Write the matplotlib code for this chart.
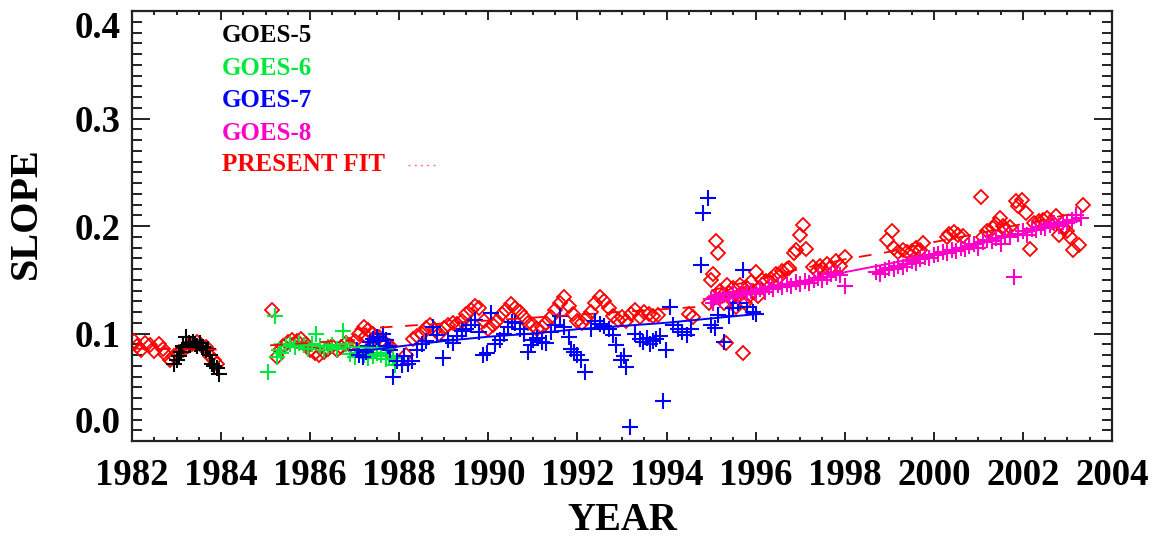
import matplotlib
matplotlib.use("Agg")
import matplotlib.pyplot as plt
from matplotlib.ticker import MultipleLocator, FixedLocator

plt.rcParams['font.family'] = ['Liberation Serif', 'DejaVu Serif']
plt.rcParams['font.weight'] = 'bold'

# ---------------- data ----------------
# GOES-5 (black +)
g5_years = [1982.95, 1983.0, 1983.05, 1983.1, 1983.15, 1983.21, 1983.27, 1983.3, 1983.37,
            1983.42, 1983.47, 1983.53, 1983.57, 1983.6, 1983.65, 1983.7, 1983.75, 1983.79,
            1983.85, 1983.9, 1983.95]
g5_vals = [0.072, 0.075, 0.079, 0.083, 0.088, 0.097, 0.091, 0.089, 0.092,
           0.090, 0.088, 0.091, 0.087, 0.087, 0.085, 0.086, 0.080, 0.072,
           0.070, 0.068, 0.062]
g5_fit_years = [1983.0, 1983.8]
g5_fit_vals = [0.087, 0.086]

# GOES-6 (green +)
g6_years = [1985.05, 1985.2, 1985.25, 1985.3, 1985.35, 1985.45, 1985.55, 1985.65, 1985.75,
            1985.85, 1985.95, 1986.05, 1986.14, 1986.22, 1986.3, 1986.4, 1986.5, 1986.6,
            1986.73, 1986.8, 1986.9, 1987.0, 1987.1, 1987.2, 1987.3, 1987.4, 1987.5,
            1987.6, 1987.7, 1987.78, 1987.85, 1987.9]
g6_vals = [0.064, 0.116, 0.078, 0.085, 0.082, 0.088, 0.090, 0.087, 0.091,
           0.089, 0.086, 0.090, 0.100, 0.088, 0.085, 0.087, 0.089, 0.086,
           0.102, 0.090, 0.081, 0.078, 0.082, 0.080, 0.077, 0.079, 0.082,
           0.080, 0.076, 0.079, 0.077, 0.071]
g6_fit_years = [1985.2, 1987.85]
g6_fit_vals = [0.090, 0.086]

# GOES-7 (blue +)
g7_years = [1987.05, 1987.1, 1987.19, 1987.25, 1987.3, 1987.35, 1987.4, 1987.49, 1987.55,
            1987.64, 1987.7, 1987.75, 1987.8, 1987.86, 1987.96, 1988.05, 1988.1, 1988.2,
            1988.28, 1988.4, 1988.5, 1988.6, 1988.76, 1988.85, 1988.98, 1989.1, 1989.2,
            1989.3, 1989.4, 1989.5, 1989.6, 1989.7, 1989.8, 1989.88, 1989.96, 1990.07,
            1990.15, 1990.25, 1990.35, 1990.45, 1990.52, 1990.6, 1990.7, 1990.8, 1990.88,
            1990.95, 1991.0, 1991.1, 1991.2, 1991.3, 1991.4, 1991.5, 1991.6, 1991.7,
            1991.8, 1991.86, 1991.92, 1992.0, 1992.09, 1992.16, 1992.3, 1992.4, 1992.5,
            1992.6, 1992.7, 1992.8, 1992.87, 1992.98, 1993.05, 1993.1, 1993.17, 1993.3,
            1993.4, 1993.47, 1993.55, 1993.62, 1993.7, 1993.77, 1993.85, 1993.92, 1993.99,
            1994.07, 1994.15, 1994.25, 1994.35, 1994.45, 1994.55, 1994.78, 1994.82, 1994.93,
            1995.0, 1995.08, 1995.15, 1995.3, 1995.4, 1995.5, 1995.6, 1995.72, 1995.8,
            1995.93, 1996.0]
g7_vals = [0.085, 0.080, 0.078, 0.083, 0.088, 0.092, 0.095, 0.097, 0.093,
           0.100, 0.094, 0.088, 0.085, 0.060, 0.074, 0.071, 0.079, 0.072,
           0.074, 0.085, 0.090, 0.093, 0.106, 0.099, 0.077, 0.094, 0.091,
           0.098, 0.102, 0.104, 0.108, 0.113, 0.101, 0.080, 0.082, 0.119,
           0.090, 0.094, 0.100, 0.106, 0.111, 0.110, 0.104, 0.100, 0.083,
           0.089, 0.094, 0.096, 0.092, 0.091, 0.101, 0.108, 0.116, 0.106,
           0.097, 0.086, 0.083, 0.080, 0.075, 0.064, 0.104, 0.112, 0.109,
           0.107, 0.104, 0.099, 0.089, 0.075, 0.079, 0.069, 0.013, 0.100,
           0.095, 0.092, 0.096, 0.090, 0.093, 0.095, 0.098, 0.037, 0.085,
           0.125, 0.108, 0.104, 0.101, 0.099, 0.104, 0.164, 0.212, 0.226,
           0.108, 0.105, 0.117, 0.092, 0.116, 0.124, 0.128, 0.159, 0.125,
           0.120, 0.118]
g7_fit_years = [1987.05, 1988.0, 1989.0, 1990.0, 1991.0, 1992.0, 1993.0, 1994.0, 1995.0, 1996.0]
g7_fit_vals = [0.083, 0.088, 0.093, 0.097, 0.100, 0.104, 0.107, 0.110, 0.114, 0.118]

# GOES-8 (magenta +)
g8_years = [1995.0, 1995.05, 1995.1, 1995.2, 1995.3, 1995.4, 1995.5, 1995.6, 1995.7, 1995.8,
            1995.9, 1996.0, 1996.1, 1996.2, 1996.3, 1996.4, 1996.5, 1996.6, 1996.7, 1996.8,
            1996.9, 1997.0, 1997.1, 1997.2, 1997.3, 1997.4, 1997.5, 1997.6, 1997.7, 1997.8,
            1997.9, 1998.0, 1998.7, 1998.8, 1998.9, 1999.0, 1999.1, 1999.2, 1999.3, 1999.4,
            1999.5, 1999.6, 1999.7, 1999.8, 1999.9, 2000.0, 2000.1, 2000.2, 2000.3, 2000.4,
            2000.5, 2000.6, 2000.7, 2000.8, 2000.9, 2001.0, 2001.1, 2001.2, 2001.3, 2001.4,
            2001.5, 2001.6, 2001.7, 2001.8, 2001.9, 2002.0, 2002.1, 2002.2, 2002.3, 2002.4,
            2002.5, 2002.6, 2002.7, 2002.8, 2002.9, 2003.0, 2003.1, 2003.2, 2003.3]
g8_vals = [0.132, 0.128, 0.134, 0.131, 0.136, 0.133, 0.138, 0.135, 0.139, 0.137,
           0.140, 0.138, 0.141, 0.139, 0.143, 0.141, 0.145, 0.143, 0.146, 0.144,
           0.148, 0.146, 0.149, 0.147, 0.150, 0.152, 0.150, 0.153, 0.155, 0.156,
           0.154, 0.144, 0.157, 0.155, 0.159, 0.161, 0.160, 0.163, 0.162, 0.165,
           0.167, 0.166, 0.169, 0.171, 0.170, 0.173, 0.174, 0.176, 0.175, 0.178,
           0.177, 0.180, 0.179, 0.181, 0.183, 0.180, 0.185, 0.187, 0.186, 0.189,
           0.183, 0.191, 0.190, 0.153, 0.193, 0.195, 0.192, 0.197, 0.196, 0.199,
           0.198, 0.201, 0.203, 0.200, 0.204, 0.203, 0.206, 0.210, 0.207]
g8_fit_years = [1995.0, 1996.2, 1997.0, 1998.0, 1999.0, 2000.0, 2001.0, 2002.0, 2003.3]
g8_fit_vals = [0.136, 0.140, 0.147, 0.157, 0.165, 0.174, 0.184, 0.193, 0.205]

# Present data (red diamonds)
red_years = [1982.05, 1982.12, 1982.2, 1982.3, 1982.4, 1982.5, 1982.6, 1982.7, 1982.75, 1982.85,
             1982.95, 1983.05, 1983.15, 1983.25, 1983.35, 1983.45, 1983.55, 1983.65, 1983.75,
             1983.85, 1983.9,
             1985.15, 1985.25, 1985.32, 1985.4, 1985.5, 1985.6, 1985.7, 1985.8, 1985.9, 1986.0,
             1986.1, 1986.2, 1986.3, 1986.4, 1986.5, 1986.6, 1986.7, 1986.8, 1986.9, 1987.0,
             1987.1, 1987.2, 1987.25, 1987.3, 1987.4, 1987.45, 1987.55, 1987.6, 1987.7, 1987.8,
             1988.16,
             1988.3, 1988.4, 1988.5, 1988.6, 1988.7, 1988.8, 1988.9, 1989.0, 1989.1, 1989.2,
             1989.3, 1989.4, 1989.5, 1989.6, 1989.7, 1989.8, 1989.9, 1990.0, 1990.1, 1990.2,
             1990.3, 1990.4, 1990.5, 1990.6, 1990.7, 1990.8, 1990.9, 1991.0, 1991.1, 1991.2,
             1991.3, 1991.4, 1991.5, 1991.6, 1991.7, 1991.8, 1991.9, 1992.0, 1992.1, 1992.2,
             1992.3, 1992.4, 1992.5, 1992.6, 1992.7, 1992.8, 1992.9, 1993.0, 1993.1, 1993.2,
             1993.3, 1993.4, 1993.5, 1993.6, 1993.7, 1993.8, 1994.5, 1994.6,
             1994.95, 1995.0, 1995.05, 1995.1, 1995.15, 1995.2, 1995.25, 1995.3, 1995.33, 1995.35,
             1995.4, 1995.45, 1995.5, 1995.55, 1995.6, 1995.65, 1995.7, 1995.72, 1995.75, 1995.8,
             1995.85, 1995.9, 1995.95, 1996.0, 1996.05, 1996.1, 1996.15,
             1996.24, 1996.35, 1996.45, 1996.53, 1996.6, 1996.7, 1996.76, 1996.85, 1996.91,
             1996.99, 1997.06, 1997.14, 1997.29, 1997.37, 1997.44, 1997.5, 1997.6, 1997.7,
             1997.8, 1997.9, 1998.0,
             1998.95, 1999.05, 1999.1, 1999.2, 1999.3, 1999.4, 1999.5, 1999.6, 1999.7, 1999.76,
             2000.3, 2000.35, 2000.45, 2000.55, 2000.65, 2001.06, 2001.1, 2001.2, 2001.33,
             2001.4, 2001.48, 2001.55, 2001.6, 2001.7, 2001.85, 2001.9, 2001.99, 2002.07,
             2002.15, 2002.25, 2002.35, 2002.45, 2002.55, 2002.65, 2002.75, 2002.82, 2002.9,
             2003.0, 2003.05, 2003.12, 2003.25, 2003.35]
red_vals = [0.093, 0.088, 0.085, 0.091, 0.089, 0.084, 0.090, 0.086, 0.081, 0.075,
            0.079, 0.083, 0.085, 0.088, 0.090, 0.092, 0.089, 0.087, 0.079,
            0.075, 0.072,
            0.122, 0.078, 0.085, 0.088, 0.092, 0.094, 0.093, 0.095, 0.090, 0.085,
            0.082, 0.080, 0.083, 0.086, 0.088, 0.085, 0.087, 0.091, 0.089, 0.093,
            0.100, 0.106, 0.098, 0.103, 0.100, 0.095, 0.097, 0.092, 0.090, 0.088,
            0.080,
            0.095, 0.098, 0.100, 0.105, 0.108, 0.103, 0.100, 0.105, 0.108, 0.110,
            0.109, 0.112, 0.118, 0.122, 0.126, 0.124, 0.112, 0.104, 0.108, 0.112,
            0.118, 0.122, 0.127, 0.124, 0.120, 0.115, 0.110, 0.108, 0.104, 0.106,
            0.110, 0.115, 0.122, 0.128, 0.134, 0.126, 0.118, 0.112, 0.110, 0.114,
            0.120, 0.128, 0.134, 0.130, 0.124, 0.116, 0.113, 0.115, 0.112, 0.118,
            0.122, 0.115, 0.120, 0.118, 0.116, 0.117, 0.118, 0.115,
            0.128, 0.150, 0.155, 0.186, 0.175, 0.140, 0.135, 0.128, 0.091, 0.145,
            0.138, 0.132, 0.142, 0.125, 0.135, 0.145, 0.138, 0.082, 0.128, 0.142,
            0.135, 0.148, 0.140, 0.157, 0.135, 0.142, 0.150,
            0.149, 0.151, 0.155, 0.153, 0.158, 0.160, 0.161, 0.175, 0.178,
            0.192, 0.201, 0.179, 0.162, 0.158, 0.163, 0.160, 0.165, 0.162,
            0.167, 0.163, 0.171,
            0.187, 0.195, 0.180, 0.176, 0.178, 0.176, 0.177, 0.180, 0.178, 0.184,
            0.190, 0.193, 0.194, 0.192, 0.191, 0.227, 0.190, 0.195, 0.198,
            0.202, 0.207, 0.200, 0.196, 0.199, 0.223, 0.219, 0.224, 0.212,
            0.179, 0.203, 0.205, 0.206, 0.207, 0.204, 0.209, 0.192, 0.198,
            0.195, 0.190, 0.178, 0.182, 0.220]

# Present fit (red dashed), piecewise
fit_a_years = [1982.0, 1983.9]
fit_a_vals = [0.086, 0.085]
fit_b_years = [1985.1, 1987.0]
fit_b_vals = [0.089, 0.094]
fit_c_years = [1987.0, 1994.8]
fit_c_vals = [0.104, 0.125]
fit_d_years = [1995.0, 1996.0, 1997.0, 1998.0, 1999.0, 2000.0, 2001.0, 2002.0, 2003.3]
fit_d_vals = [0.140, 0.150, 0.160, 0.169, 0.176, 0.185, 0.193, 0.202, 0.213]

x_ticks = [1982, 1984, 1986, 1988, 1990, 1992, 1994, 1996, 1998, 2000, 2002, 2004]
y_ticks = [0.0, 0.1, 0.2, 0.3, 0.4]
y_tick_labels = ['0.0', '0.1', '0.2', '0.3', '0.4']

legend_names = ['GOES-5', 'GOES-6', 'GOES-7', 'GOES-8', 'PRESENT FIT']

# ---------------- styles ----------------
C_BLACK = '#000000'
C_GREEN = '#00e83c'
C_BLUE = '#0000ff'
C_MAG = '#ff00c8'
C_RED = '#ff0000'
legend_colors = [C_BLACK, C_GREEN, C_BLUE, C_MAG, C_RED]

fig = plt.figure(figsize=(11.7, 5.38), dpi=100)
ax = fig.add_axes([132 / 1170, 97 / 538, 980 / 1170, 430 / 538])

plus_kw = dict(linestyle='none', marker='+', markersize=11.5, markeredgewidth=1.5)
ax.plot(red_years, red_vals, linestyle='none', marker='D', markersize=7.2,
        markerfacecolor='none', markeredgecolor=C_RED, markeredgewidth=1.3, zorder=2)
ax.plot(g5_years, g5_vals, color=C_BLACK, zorder=3, **plus_kw)
ax.plot(g6_years, g6_vals, color=C_GREEN, zorder=3, **plus_kw)
ax.plot(g7_years, g7_vals, color=C_BLUE, zorder=3, **plus_kw)
ax.plot(g8_years, g8_vals, color=C_MAG, zorder=3, **plus_kw)

ax.plot(g5_fit_years, g5_fit_vals, color=C_BLACK, lw=1.4, zorder=4)
ax.plot(g6_fit_years, g6_fit_vals, color=C_GREEN, lw=1.4, zorder=4)
ax.plot(g7_fit_years, g7_fit_vals, color=C_BLUE, lw=1.4, zorder=4)
ax.plot(g8_fit_years, g8_fit_vals, color=C_MAG, lw=1.4, zorder=4)
for fy, fv in [(fit_a_years, fit_a_vals), (fit_b_years, fit_b_vals),
               (fit_c_years, fit_c_vals), (fit_d_years, fit_d_vals)]:
    ax.plot(fy, fv, color=C_RED, lw=1.3, linestyle=(0, (7, 7)), zorder=4)

ax.set_xlim(1982, 2004)
ax.set_ylim(0.0, 0.4)

ax.xaxis.set_major_locator(FixedLocator(x_ticks))
ax.xaxis.set_minor_locator(MultipleLocator(0.5))
ax.set_xticks(x_ticks, [str(v) for v in x_ticks])
ax.yaxis.set_minor_locator(MultipleLocator(0.01))
ax.set_yticks(y_ticks, y_tick_labels)

ax.tick_params(which='both', direction='in', top=True, right=True, width=1.4, color='#222222')
ax.tick_params(axis='x', which='major', length=6.5, pad=12, labelsize=26.5)
ax.tick_params(axis='x', which='minor', length=3)
ax.tick_params(axis='y', which='major', length=13, pad=8, labelsize=26.5)
ax.tick_params(axis='y', which='minor', length=7)
for lab in ax.get_xticklabels() + ax.get_yticklabels():
    lab.set_fontweight('bold')

yt = ax.yaxis.get_major_ticks()
yt[0].label1.set_va('bottom')
yt[-1].label1.set_va('top')

for sp in ax.spines.values():
    sp.set_linewidth(1.6)
    sp.set_color('#222222')

ax.set_xlabel('YEAR', fontsize=28, fontweight='bold', va='top')
ax.xaxis.set_label_coords(0.5, -0.142)
ax.set_ylabel('SLOPE', fontsize=29, fontweight='bold')
ax.yaxis.set_label_coords(-0.089, 0.53)

leg_y = [0.942, 0.867, 0.793, 0.716, 0.642]
for name, col, yy in zip(legend_names, legend_colors, leg_y):
    ax.text(0.092, yy, name, color=col, fontsize=18, fontweight='bold',
            va='center', ha='left', transform=ax.transAxes)
ax.plot([0.282, 0.312], [0.642, 0.642], color='#ff7070', lw=1.0, linestyle=(0, (1.5, 3)),
        transform=ax.transAxes)

fig.savefig('out.png', dpi=100)
